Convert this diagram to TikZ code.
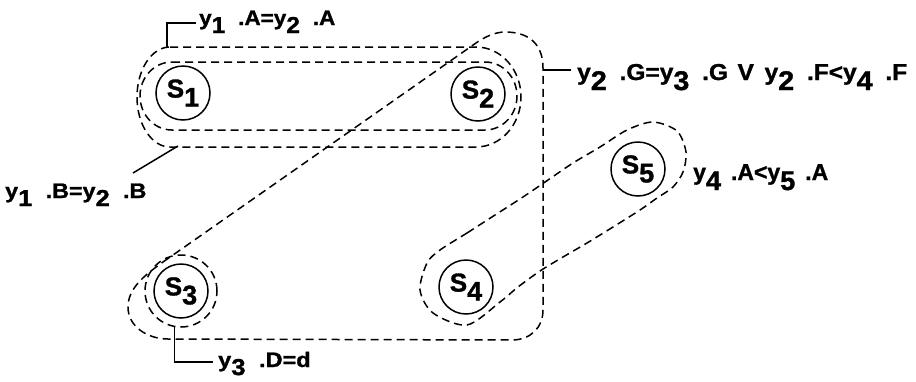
\documentclass[tikz,border=0pt]{standalone}
\usepackage{fontspec}
\setmainfont{Liberation Sans}[BoldFeatures={FakeBold=1.2}]
\newcommand\dna[1]{\raisebox{-8pt}{\fontsize{23}{23}\selectfont #1}}
\newcommand\dnb[1]{\raisebox{-10pt}{\fontsize{27}{27}\selectfont #1}}
\newcommand\sdn[1]{\raisebox{-9pt}{\fontsize{27}{27}\selectfont #1}}
\newcommand\gp{\hspace{12pt}}
\begin{document}
\begin{tikzpicture}[x=1pt,y=-1pt,
  state/.style={circle,draw,line width=1.5pt,minimum size=54pt,inner sep=0pt,font=\fontsize{26}{26}\selectfont\bfseries},
  dsh/.style={line width=1.5pt,dash pattern=on 8pt off 5pt},
  lbl/.style={anchor=base west,inner sep=0pt,font=\fontsize{21}{21}\selectfont\bfseries},
  lblb/.style={anchor=base west,inner sep=0pt,font=\fontsize{23}{23}\selectfont\bfseries},
  lead/.style={line width=1.5pt}]
\useasboundingbox (0,0) rectangle (916,381);
% states
\node[state] (S1) at (183,93) {S\sdn{1}};
\node[state] (S2) at (478,94) {S\sdn{2}};
\node[state] (S3) at (181,291) {S\sdn{3}};
\node[state] (S4) at (466,287) {S\sdn{4}};
\node[state] (S5) at (638,169) {S\sdn{5}};
\node[circle,draw,dsh,minimum size=72pt,inner sep=0pt] (S3d) at (S3) {};
% loops around S1,S2
\draw[dsh] (170,47) -- (476,47) arc[start angle=-90,end angle=90,x radius=45,y radius=50] -- (170,147) arc[start angle=90,end angle=270,x radius=33,y radius=50] -- cycle;
\draw[dsh] (172,62) -- (485,62) arc[start angle=-90,end angle=90,x radius=32,y radius=34] -- (172,130) arc[start angle=90,end angle=270,x radius=32,y radius=34] -- cycle;
% big loop S2,S3,S4
\draw[dsh] (163,262) -- (476,43) .. controls (484,37.3) and (495,32) .. (505,32) .. controls (530,32) and (543,45) .. (543,68) -- (543,310) .. controls (543,328) and (530,340) .. (512,340) -- (168,339) .. controls (148,339) and (128,327) .. (128,307) .. controls (128,288) and (145,275) .. (163,262);
% loop S4,S5
\draw[dsh] plot[smooth cycle] coordinates {(440,250) (467,233) (495,215) (523,197) (548,180) (573,163) (600,147) (627,130) (653,122) (677,131) (686,152) (683,172) (673,187) (657,198) (640,210) (613,227) (587,243) (563,257) (540,271) (518,287) (500,302) (467,325) (433,313) (420,290) (427,263)};
% labels
\node[lbl] (lA) at (199,25) {\scalebox{1.07}[1]{y\dna{1}\gp.A=y\dna{2}\gp.A}};
\node[lbl] (lB) at (5,198) {\scalebox{1.11}[1]{y\dna{1}\gp.B=y\dna{2}\gp.B}};
\node[lbl] (lD) at (218,367) {\scalebox{1.12}[1]{y\dna{3}\gp.D=d}};
\node[lblb] (lG) at (577,80) {\scalebox{1.065}[1]{y\dnb{2}\gp.G=y\dnb{3}\gp.G\hspace{9pt}V\hspace{10pt}y\dnb{2}\gp.F<y\dnb{4}\gp.F}};
\node[lblb] (l4) at (693,180) {y\dnb{4}\hspace{10pt}.A<y\dnb{5}\hspace{10pt}.A};
% leaders
\coordinate (oA) at (167,48);
\coordinate (aEnd) at (196,23);
\coordinate (oB) at (178,146);
\coordinate (bEnd) at (133,173);
\coordinate (oG) at (543,70);
\coordinate (gEnd) at (571,70);
\coordinate (dEnd) at (213,362);
\draw[lead] (oA) |- (aEnd);
\draw[lead] (oB) -- (bEnd);
\draw[lead] (oG) -- (gEnd);
\draw[lead] (S3d.260) |- (dEnd);
\end{tikzpicture}
\end{document}
